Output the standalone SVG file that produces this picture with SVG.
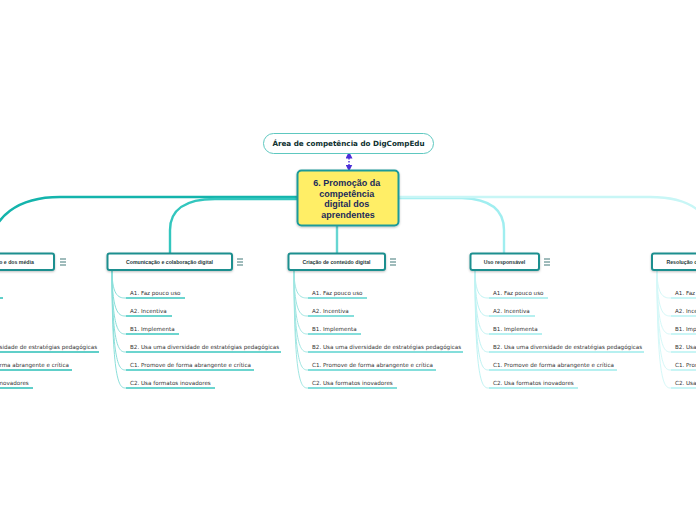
<svg xmlns="http://www.w3.org/2000/svg" width="696" height="520" viewBox="0 0 696 520">
<defs>
<style>
.bg{fill:#ffffff}
.main{fill:none;stroke-width:2.4;stroke-linecap:round}
.sub{fill:none;stroke-width:1}
.ul{fill:none;stroke-width:1.4}
.c1{stroke:#14b4ac}.c2{stroke:#33c6be}.c3{stroke:#66d6d2}.c4{stroke:#a0eef0}.c5{stroke:#c8f6f6}
.s1{stroke:#6fd4ce}.s2{stroke:#8adfda}.s3{stroke:#9fe6e2}.s4{stroke:#bff3f3}.s5{stroke:#d4f8f8}
.u1{stroke:#2cc0b8}.u2{stroke:#3cc8c0}.u3{stroke:#5cd4d0}.u4{stroke:#9eecec}.u5{stroke:#b8f2f2}
.item{font-family:"DejaVu Sans",Verdana,sans-serif;font-size:5.6px;fill:#333333}
.child rect{fill:#ffffff;stroke:#1f8f8f;stroke-width:2}
.ctext{font-family:"Liberation Sans",Arial,sans-serif;font-size:5.2px;font-weight:bold;fill:#1f3a3a;text-anchor:middle}
.menu{stroke:#2a6a6a;stroke-width:0.9}
</style>
<filter id="sh" x="-10%" y="-20%" width="120%" height="150%">
<feDropShadow dx="0" dy="1" stdDeviation="0.8" flood-color="#000" flood-opacity="0.25"/>
</filter>
<marker id="ah" viewBox="0 0 6 6" refX="3" refY="3" markerWidth="5" markerHeight="5" orient="auto-start-reverse">
<path d="M0,0 L6,3 L0,6 Z" fill="#4a2fd8"/>
</marker>
</defs>
<rect class="bg" x="0" y="0" width="696" height="520"/>

<g id="connectors">
<line x1="349" y1="155" x2="349" y2="168" stroke="#4a2fd8" stroke-width="1.4" stroke-dasharray="1.5,1.5" marker-start="url(#ah)" marker-end="url(#ah)"/>
<path class="main c1" d="M297,197 H60 C20,197 -10,215 -10,253"/>
<path class="main c2" d="M297,199 H215 C185,199 170,210 170,230 V253"/>
<path class="main c3" d="M337,226 V253"/>
<path class="main c4" d="M399,198 H462 C490,199 504,210 504,230 V253"/>
<path class="main c5" d="M399,197 H650 C690,197 715,212 715,253"/>

<g transform="translate(-52,0)">
<path class="sub s1" d="M-18,270 C-18,298 -10,298 -4,298"/>
<path class="sub s1" d="M-18,270 C-18,316 -10,316 -4,316"/>
<path class="sub s1" d="M-18,270 C-18,334 -10,334 -4,334"/>
<path class="sub s1" d="M-18,270 C-18,352 -10,352 -4,352"/>
<path class="sub s1" d="M-18,270 C-18,370 -10,370 -4,370"/>
<path class="sub s1" d="M-18,270 C-18,388 -10,388 -4,388"/>
<path class="ul u1" d="M-4,298 H55 M-4,316 H42 M-4,334 H49 M-4,352 H151 M-4,370 H124 M-4,388 H85"/>
</g>
<g transform="translate(130,0)">
<path class="sub s2" d="M-18,270 C-18,298 -10,298 -4,298"/>
<path class="sub s2" d="M-18,270 C-18,316 -10,316 -4,316"/>
<path class="sub s2" d="M-18,270 C-18,334 -10,334 -4,334"/>
<path class="sub s2" d="M-18,270 C-18,352 -10,352 -4,352"/>
<path class="sub s2" d="M-18,270 C-18,370 -10,370 -4,370"/>
<path class="sub s2" d="M-18,270 C-18,388 -10,388 -4,388"/>
<path class="ul u2" d="M-4,298 H55 M-4,316 H42 M-4,334 H49 M-4,352 H151 M-4,370 H124 M-4,388 H85"/>
</g>
<g transform="translate(312,0)">
<path class="sub s3" d="M-18,270 C-18,298 -10,298 -4,298"/>
<path class="sub s3" d="M-18,270 C-18,316 -10,316 -4,316"/>
<path class="sub s3" d="M-18,270 C-18,334 -10,334 -4,334"/>
<path class="sub s3" d="M-18,270 C-18,352 -10,352 -4,352"/>
<path class="sub s3" d="M-18,270 C-18,370 -10,370 -4,370"/>
<path class="sub s3" d="M-18,270 C-18,388 -10,388 -4,388"/>
<path class="ul u3" d="M-4,298 H55 M-4,316 H42 M-4,334 H49 M-4,352 H151 M-4,370 H124 M-4,388 H85"/>
</g>
<g transform="translate(493,0)">
<path class="sub s4" d="M-18,270 C-18,298 -10,298 -4,298"/>
<path class="sub s4" d="M-18,270 C-18,316 -10,316 -4,316"/>
<path class="sub s4" d="M-18,270 C-18,334 -10,334 -4,334"/>
<path class="sub s4" d="M-18,270 C-18,352 -10,352 -4,352"/>
<path class="sub s4" d="M-18,270 C-18,370 -10,370 -4,370"/>
<path class="sub s4" d="M-18,270 C-18,388 -10,388 -4,388"/>
<path class="ul u4" d="M-4,298 H55 M-4,316 H42 M-4,334 H49 M-4,352 H151 M-4,370 H124 M-4,388 H85"/>
</g>
<g transform="translate(675,0)">
<path class="sub s5" d="M-18,270 C-18,298 -10,298 -4,298"/>
<path class="sub s5" d="M-18,270 C-18,316 -10,316 -4,316"/>
<path class="sub s5" d="M-18,270 C-18,334 -10,334 -4,334"/>
<path class="sub s5" d="M-18,270 C-18,352 -10,352 -4,352"/>
<path class="sub s5" d="M-18,270 C-18,370 -10,370 -4,370"/>
<path class="sub s5" d="M-18,270 C-18,388 -10,388 -4,388"/>
<path class="ul u5" d="M-4,298 H55 M-4,316 H42 M-4,334 H49 M-4,352 H151 M-4,370 H124 M-4,388 H85"/>
</g>
</g>

<g id="node-area">
<rect x="263.5" y="133.5" width="170" height="20" rx="10" fill="#ffffff" stroke="#5ec8c0" stroke-width="1"/>
<text x="348.5" y="146" text-anchor="middle" font-family="DejaVu Sans,Verdana,sans-serif" font-size="7.2" font-weight="bold" fill="#0d3030">Área de competência do DigCompEdu</text>
</g>

<g id="node-central">
<rect x="297.5" y="170.5" width="101" height="55" rx="4" fill="#ffee66" stroke="#1e9a9a" stroke-width="2" filter="url(#sh)"/>
<text text-anchor="middle" font-family="Liberation Sans,Arial,sans-serif" font-size="9" font-weight="bold" fill="#1b2a5a">
<tspan x="348" y="186">6. Promoção da</tspan>
<tspan x="348" y="196.5">competência</tspan>
<tspan x="348" y="207">digital dos</tspan>
<tspan x="348" y="217.5">aprendentes</tspan>
</text>
</g>

<g id="node-literacia" class="child">
<rect x="-76" y="253.5" width="130" height="16.5" rx="2" filter="url(#sh)"/>
<text class="ctext" x="-11" y="263.8">Literacia da informação e dos média</text>
<path class="menu" d="M60,259 H66 M60,262 H66 M60,265 H66"/>
</g>
<g id="node-comunicacao" class="child">
<rect x="107.5" y="253.5" width="124.5" height="16.5" rx="2" filter="url(#sh)"/>
<text class="ctext" x="169.5" y="263.8">Comunicação e colaboração digital</text>
<path class="menu" d="M237,259 H243 M237,262 H243 M237,265 H243"/>
</g>
<g id="node-criacao" class="child">
<rect x="288.5" y="253.5" width="96.5" height="16.5" rx="2" filter="url(#sh)"/>
<text class="ctext" x="336.5" y="263.8">Criação de conteúdo digital</text>
<path class="menu" d="M390,259 H396 M390,262 H396 M390,265 H396"/>
</g>
<g id="node-uso" class="child">
<rect x="470.5" y="253.5" width="68.5" height="16.5" rx="2" filter="url(#sh)"/>
<text class="ctext" x="504.5" y="263.8">Uso responsável</text>
<path class="menu" d="M544,259 H550 M544,262 H550 M544,265 H550"/>
</g>
<g id="node-resolucao" class="child">
<rect x="652" y="253.5" width="110" height="16.5" rx="2" filter="url(#sh)"/>
<text class="ctext" x="707" y="263.8">Resolução de problemas digitais</text>
</g>

<g id="items-literacia">
<text class="item" x="-52" y="294.5">A1. Faz pouco uso</text>
<text class="item" x="-52" y="312.5">A2. Incentiva</text>
<text class="item" x="-52" y="330.5">B1. Implementa</text>
<text class="item" x="-52" y="348.5">B2. Usa uma diversidade de estratégias pedagógicas</text>
<text class="item" x="-52" y="366.5">C1. Promove de forma abrangente e crítica</text>
<text class="item" x="-52" y="384.5">C2. Usa formatos inovadores</text>
</g>
<g id="items-comunicacao">
<text class="item" x="130" y="294.5">A1. Faz pouco uso</text>
<text class="item" x="130" y="312.5">A2. Incentiva</text>
<text class="item" x="130" y="330.5">B1. Implementa</text>
<text class="item" x="130" y="348.5">B2. Usa uma diversidade de estratégias pedagógicas</text>
<text class="item" x="130" y="366.5">C1. Promove de forma abrangente e crítica</text>
<text class="item" x="130" y="384.5">C2. Usa formatos inovadores</text>
</g>
<g id="items-criacao">
<text class="item" x="312" y="294.5">A1. Faz pouco uso</text>
<text class="item" x="312" y="312.5">A2. Incentiva</text>
<text class="item" x="312" y="330.5">B1. Implementa</text>
<text class="item" x="312" y="348.5">B2. Usa uma diversidade de estratégias pedagógicas</text>
<text class="item" x="312" y="366.5">C1. Promove de forma abrangente e crítica</text>
<text class="item" x="312" y="384.5">C2. Usa formatos inovadores</text>
</g>
<g id="items-uso">
<text class="item" x="493" y="294.5">A1. Faz pouco uso</text>
<text class="item" x="493" y="312.5">A2. Incentiva</text>
<text class="item" x="493" y="330.5">B1. Implementa</text>
<text class="item" x="493" y="348.5">B2. Usa uma diversidade de estratégias pedagógicas</text>
<text class="item" x="493" y="366.5">C1. Promove de forma abrangente e crítica</text>
<text class="item" x="493" y="384.5">C2. Usa formatos inovadores</text>
</g>
<g id="items-resolucao">
<text class="item" x="675" y="294.5">A1. Faz pouco uso</text>
<text class="item" x="675" y="312.5">A2. Incentiva</text>
<text class="item" x="675" y="330.5">B1. Implementa</text>
<text class="item" x="675" y="348.5">B2. Usa uma diversidade de estratégias pedagógicas</text>
<text class="item" x="675" y="366.5">C1. Promove de forma abrangente e crítica</text>
<text class="item" x="675" y="384.5">C2. Usa formatos inovadores</text>
</g>
</svg>
